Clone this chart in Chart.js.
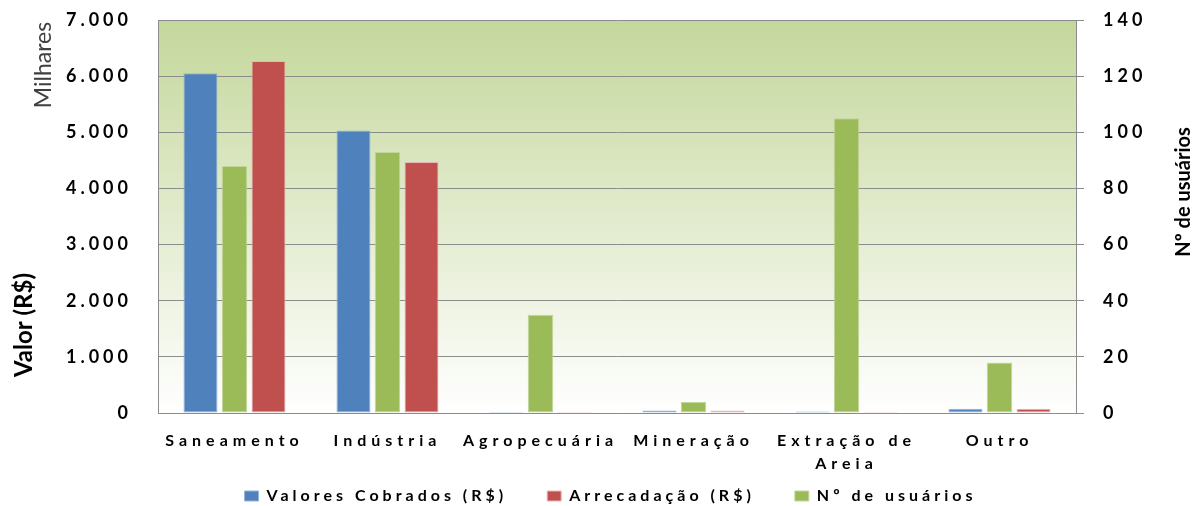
<!DOCTYPE html>
<html><head><meta charset="utf-8">
<script src="https://cdn.jsdelivr.net/npm/chart.js@4"></script>
<style>html,body{margin:0;padding:0;background:#fff}#wrap{width:1199px;height:506px}</style>
</head><body><div id="wrap"><canvas id="c" width="1199" height="506"></canvas></div>
<script>
const categories = ['Saneamento','Indústria','Agropecuária','Mineração','Extração de Areia','Outro'];
const valoresCobrados = [6050, 5030, 20, 45, 25, 75];
const arrecadacao = [6270, 4470, 20, 45, 20, 75];
const numUsuarios = [88, 93, 35, 4, 105, 18];
const leftTickLabels = ['0','1.000','2.000','3.000','4.000','5.000','6.000','7.000'];
const rightTickLabels = ['0','20','40','60','80','100','120','140'];
const seriesNames = ['Valores Cobrados (R$)','Arrecadação (R$)','Nº de usuários'];
const legendOrder = seriesNames;

const FONT = 'Lato';

function splitLabel(l){
  if (l.length > 14) { const k = l.lastIndexOf(' '); return [l.slice(0,k), l.slice(k+1)]; }
  return l;
}

const bgPlugin = {
  id:'bg',
  beforeDraw(chart){
    const {ctx, chartArea:a} = chart;
    ctx.save();
    ctx.fillStyle = '#ffffff';
    ctx.fillRect(0,0,chart.width,chart.height);
    const g = ctx.createLinearGradient(0,a.top,0,a.bottom);
    g.addColorStop(0,'#c4d79b');
    g.addColorStop(1,'#ffffff');
    ctx.fillStyle = g;
    ctx.fillRect(a.left,a.top,a.right-a.left,a.bottom-a.top);
    ctx.restore();
  }
};

const spacingPlugin = {
  id:'spacing',
  beforeLayout(chart){ chart.ctx.letterSpacing = '4px'; },
  afterLayout(chart){
    chart.ctx.letterSpacing = '0px';
    const lg = chart.legend;
    if (lg) { lg.top -= 30; lg.bottom -= 30; lg.left += 11; lg.right += 11; }
    const wrap = (obj, fn, sp) => {
      if (!obj || obj[fn]._wrapped) return;
      const orig = obj[fn];
      const w = function(...args){
        const c = chart.ctx; const prev = c.letterSpacing;
        c.letterSpacing = sp;
        const r = orig.apply(this, args);
        c.letterSpacing = prev;
        return r;
      };
      w._wrapped = true;
      obj[fn] = w;
    };
    wrap(chart.scales.x, 'drawLabels', '5px');
    wrap(chart.scales.y, 'drawLabels', '4px');
    wrap(chart.scales.y1, 'drawLabels', '4px');
    wrap(chart.legend, 'draw', '4px');
  }
};

const titlePlugin = {
  id:'titles',
  afterDraw(chart){
    const ctx = chart.ctx;
    const t = (text, x, y, font, color) => {
      ctx.save();
      ctx.letterSpacing = '0px';
      ctx.translate(x,y);
      ctx.rotate(-Math.PI/2);
      ctx.font = font;
      ctx.fillStyle = color;
      ctx.textAlign = 'center';
      ctx.textBaseline = 'middle';
      ctx.fillText(text,0,0);
      ctx.restore();
    };
    t('Milhares', 44, 65, '23px ' + FONT, '#404040');
    t('Valor (R$)', 24, 325, 'bold 24px ' + FONT, '#000');
    t('Nº de usuários', 1184, 192, 'bold 20px ' + FONT, '#000');
  }
};

new Chart(document.getElementById('c'), {
  type:'bar',
  data:{
    labels: categories,
    datasets:[
      {label: seriesNames[0], data: valoresCobrados, yAxisID:'y', backgroundColor:'#4f81bd', borderColor:'#95b3d7', borderWidth:1, borderSkipped:false, barPercentage:1.0, categoryPercentage:0.667},
      {label: seriesNames[2], data: numUsuarios, yAxisID:'y1', backgroundColor:'#9bbb59', borderColor:'#c3d69b', borderWidth:1, borderSkipped:false, barPercentage:0.75, categoryPercentage:0.667},
      {label: seriesNames[1], data: arrecadacao, yAxisID:'y', backgroundColor:'#c0504d', borderColor:'#e6b9b8', borderWidth:1, borderSkipped:false, barPercentage:1.0, categoryPercentage:0.667}
    ]
  },
  options:{
    responsive:false,
    animation:false,
    devicePixelRatio:1,
    layout:{padding:{left:0,right:0,top:20,bottom:-38}},
    plugins:{
      legend:{
        position:'bottom',
        labels:{
          font:{family:FONT,size:16,weight:'bold'},
          color:'#000',
          boxWidth:14, boxHeight:10, padding:40,
          sort:(a,b)=>legendOrder.indexOf(a.text)-legendOrder.indexOf(b.text)
        }
      },
      tooltip:{enabled:false}
    },
    scales:{
      x:{
        grid:{display:true, drawOnChartArea:false, drawTicks:false},
        border:{display:true, color:'#8c8c8c', width:1},
        ticks:{font:{family:FONT,size:16,weight:'bold',lineHeight:1.45}, color:'#000', padding:16, maxRotation:0, autoSkip:false,
          callback:(v,i)=>splitLabel(categories[i])},
        afterFit(s){ s.height = 65; }
      },
      y:{
        position:'left', min:0, max:7000,
        ticks:{stepSize:1000, font:{family:FONT,size:18,weight:'bold'}, color:'#000', padding:26,
          callback:(v,i)=>leftTickLabels[i]},
        grid:{color:'#8c8c8c', drawTicks:false, lineWidth:1},
        border:{display:true, color:'#8c8c8c', width:1},
        afterFit(s){ s.width = 158; s.paddingTop = 8; s.paddingBottom = 8; }
      },
      y1:{
        position:'right', min:0, max:140,
        ticks:{stepSize:20, font:{family:FONT,size:18,weight:'bold'}, color:'#000', padding:19,
          callback:(v,i)=>rightTickLabels[i]},
        grid:{drawOnChartArea:false, drawTicks:true, tickLength:8, color:'#8c8c8c'},
        border:{display:true, color:'#8c8c8c', width:1},
        afterFit(s){ s.width = 123; s.paddingTop = 8; s.paddingBottom = 8; }
      }
    }
  },
  plugins:[bgPlugin, spacingPlugin, titlePlugin]
});
</script>
</body></html>
